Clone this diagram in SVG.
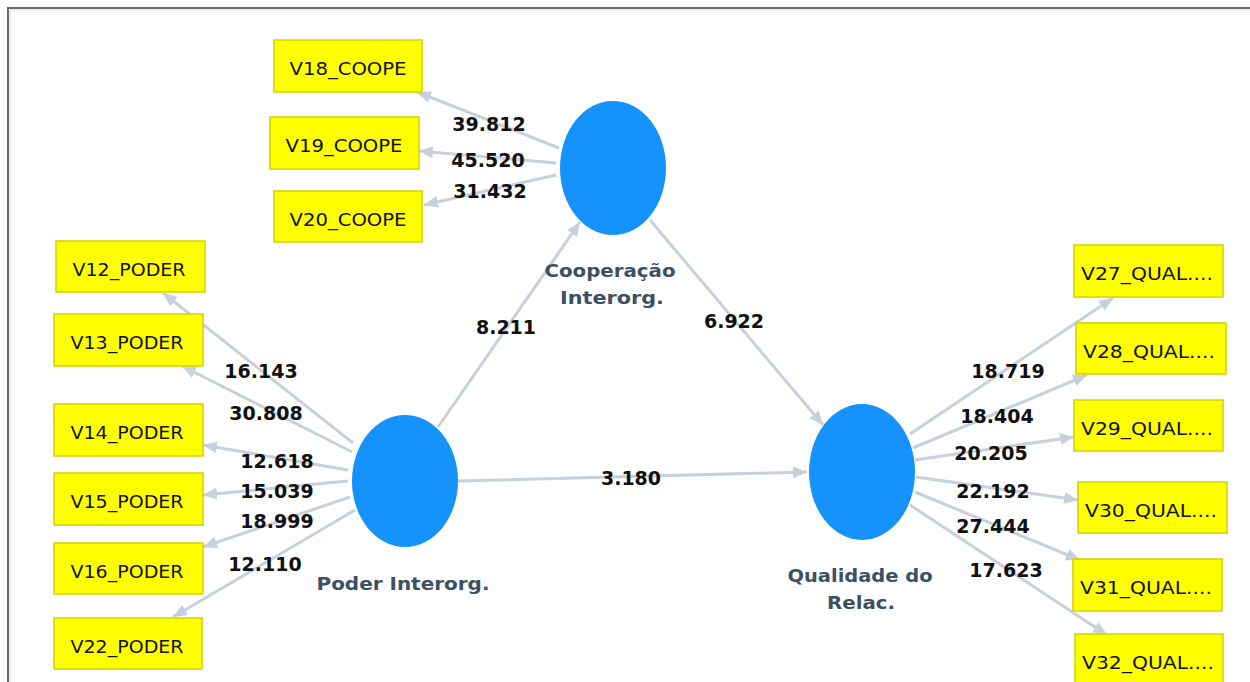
<svg xmlns="http://www.w3.org/2000/svg" width="1250" height="682" viewBox="0 0 1250 682">
<style>
.box{fill:#ffff00;stroke:#d2d200;stroke-width:1.5}
.bt{font-family:"DejaVu Sans",sans-serif;font-size:17px;fill:#111;text-anchor:middle}
.lv{fill:#1692fc}
.lt{font-family:"DejaVu Sans",sans-serif;font-weight:bold;font-size:18px;fill:#3d4f63;text-anchor:middle}
.num{font-family:"DejaVu Sans",sans-serif;font-weight:bold;font-size:19px;fill:#111;text-anchor:middle}
.c line{stroke:#c8d0dc;stroke-width:3;marker-end:url(#ah)}
</style>
<defs>
<marker id="ah" markerUnits="userSpaceOnUse" markerWidth="16" markerHeight="12" refX="14" refY="6" orient="auto">
<path d="M0,0 L14,6 L0,12 z" fill="#c8d0dc"/>
</marker>
</defs>
<rect width="1250" height="682" fill="#ffffff"/>
<path d="M8,682 V8 H1250" fill="none" stroke="#6a6a6a" stroke-width="2"/>
<path d="M10,682 V10 H1250" fill="none" stroke="#d8d8d8" stroke-width="1"/>

<g class="c" id="connectors">
<line x1="559" y1="148" x2="417" y2="92"/>
<line x1="556" y1="163" x2="419" y2="151"/>
<line x1="556" y1="175" x2="424" y2="205"/>
<line x1="438" y1="427" x2="580" y2="222"/>
<line x1="650" y1="220" x2="823" y2="425"/>
<line x1="458" y1="481" x2="807" y2="472"/>
<line x1="353" y1="443" x2="163" y2="293"/>
<line x1="352" y1="452" x2="182" y2="366"/>
<line x1="348" y1="470" x2="203" y2="445"/>
<line x1="348" y1="481" x2="203" y2="495"/>
<line x1="350" y1="497" x2="203" y2="547"/>
<line x1="355" y1="510" x2="173" y2="617"/>
<line x1="910" y1="434" x2="1113" y2="298"/>
<line x1="913" y1="448" x2="1087" y2="375"/>
<line x1="915" y1="460" x2="1074" y2="437"/>
<line x1="916" y1="477" x2="1078" y2="500"/>
<line x1="915" y1="492" x2="1080" y2="560"/>
<line x1="910" y1="505" x2="1107" y2="635"/>
</g>

<g id="labels">
<text class="num" x="489" y="131">39.812</text>
<text class="num" x="488" y="167">45.520</text>
<text class="num" x="490" y="198">31.432</text>
<text class="num" x="506" y="334">8.211</text>
<text class="num" x="734" y="328">6.922</text>
<text class="num" x="631" y="485">3.180</text>
<text class="num" x="261" y="378">16.143</text>
<text class="num" x="266" y="420">30.808</text>
<text class="num" x="277" y="468">12.618</text>
<text class="num" x="277" y="498">15.039</text>
<text class="num" x="277" y="528">18.999</text>
<text class="num" x="265" y="571">12.110</text>
<text class="num" x="1008" y="378">18.719</text>
<text class="num" x="997" y="423">18.404</text>
<text class="num" x="991" y="460">20.205</text>
<text class="num" x="993" y="498">22.192</text>
<text class="num" x="993" y="533">27.444</text>
<text class="num" x="1006" y="577">17.623</text>
</g>

<g id="coop">
<ellipse class="lv" cx="613" cy="168" rx="53" ry="67"/>
<text class="lt" x="610" y="277" textLength="131" lengthAdjust="spacingAndGlyphs">Cooperação</text>
<text class="lt" x="612" y="304" textLength="104" lengthAdjust="spacingAndGlyphs">Interorg.</text>
</g>
<g id="poder">
<ellipse class="lv" cx="405" cy="481" rx="53" ry="66"/>
<text class="lt" x="403" y="590" textLength="173" lengthAdjust="spacingAndGlyphs">Poder Interorg.</text>
</g>
<g id="qual">
<ellipse class="lv" cx="862" cy="472" rx="53" ry="68"/>
<text class="lt" x="860" y="582" textLength="145" lengthAdjust="spacingAndGlyphs">Qualidade do</text>
<text class="lt" x="861" y="609" textLength="68" lengthAdjust="spacingAndGlyphs">Relac.</text>
</g>

<g id="v18"><rect class="box" x="274" y="40" width="148" height="52"/><text class="bt" x="348" y="75" textLength="117" lengthAdjust="spacingAndGlyphs">V18_COOPE</text></g>
<g id="v19"><rect class="box" x="270" y="117" width="149" height="52"/><text class="bt" x="344" y="152" textLength="117" lengthAdjust="spacingAndGlyphs">V19_COOPE</text></g>
<g id="v20"><rect class="box" x="274" y="191" width="148" height="51"/><text class="bt" x="348" y="226" textLength="117" lengthAdjust="spacingAndGlyphs">V20_COOPE</text></g>

<g id="v12"><rect class="box" x="56" y="241" width="149" height="51"/><text class="bt" x="129" y="276" textLength="113" lengthAdjust="spacingAndGlyphs">V12_PODER</text></g>
<g id="v13"><rect class="box" x="54" y="314" width="149" height="52"/><text class="bt" x="127" y="349" textLength="113" lengthAdjust="spacingAndGlyphs">V13_PODER</text></g>
<g id="v14"><rect class="box" x="54" y="404" width="149" height="52"/><text class="bt" x="127" y="439" textLength="113" lengthAdjust="spacingAndGlyphs">V14_PODER</text></g>
<g id="v15"><rect class="box" x="54" y="473" width="149" height="52"/><text class="bt" x="127" y="508" textLength="113" lengthAdjust="spacingAndGlyphs">V15_PODER</text></g>
<g id="v16"><rect class="box" x="54" y="543" width="149" height="51"/><text class="bt" x="127" y="578" textLength="113" lengthAdjust="spacingAndGlyphs">V16_PODER</text></g>
<g id="v22"><rect class="box" x="54" y="618" width="148" height="51"/><text class="bt" x="127" y="653" textLength="113" lengthAdjust="spacingAndGlyphs">V22_PODER</text></g>

<g id="v27"><rect class="box" x="1074" y="245" width="149" height="52"/><text class="bt" x="1147" y="280" textLength="132" lengthAdjust="spacingAndGlyphs">V27_QUAL....</text></g>
<g id="v28"><rect class="box" x="1076" y="323" width="150" height="51"/><text class="bt" x="1149" y="358" textLength="132" lengthAdjust="spacingAndGlyphs">V28_QUAL....</text></g>
<g id="v29"><rect class="box" x="1074" y="400" width="149" height="51"/><text class="bt" x="1147" y="435" textLength="132" lengthAdjust="spacingAndGlyphs">V29_QUAL....</text></g>
<g id="v30"><rect class="box" x="1078" y="482" width="149" height="51"/><text class="bt" x="1151" y="517" textLength="132" lengthAdjust="spacingAndGlyphs">V30_QUAL....</text></g>
<g id="v31"><rect class="box" x="1073" y="559" width="149" height="52"/><text class="bt" x="1146" y="594" textLength="132" lengthAdjust="spacingAndGlyphs">V31_QUAL....</text></g>
<g id="v32"><rect class="box" x="1075" y="634" width="148" height="52"/><text class="bt" x="1148" y="669" textLength="132" lengthAdjust="spacingAndGlyphs">V32_QUAL....</text></g>
</svg>
